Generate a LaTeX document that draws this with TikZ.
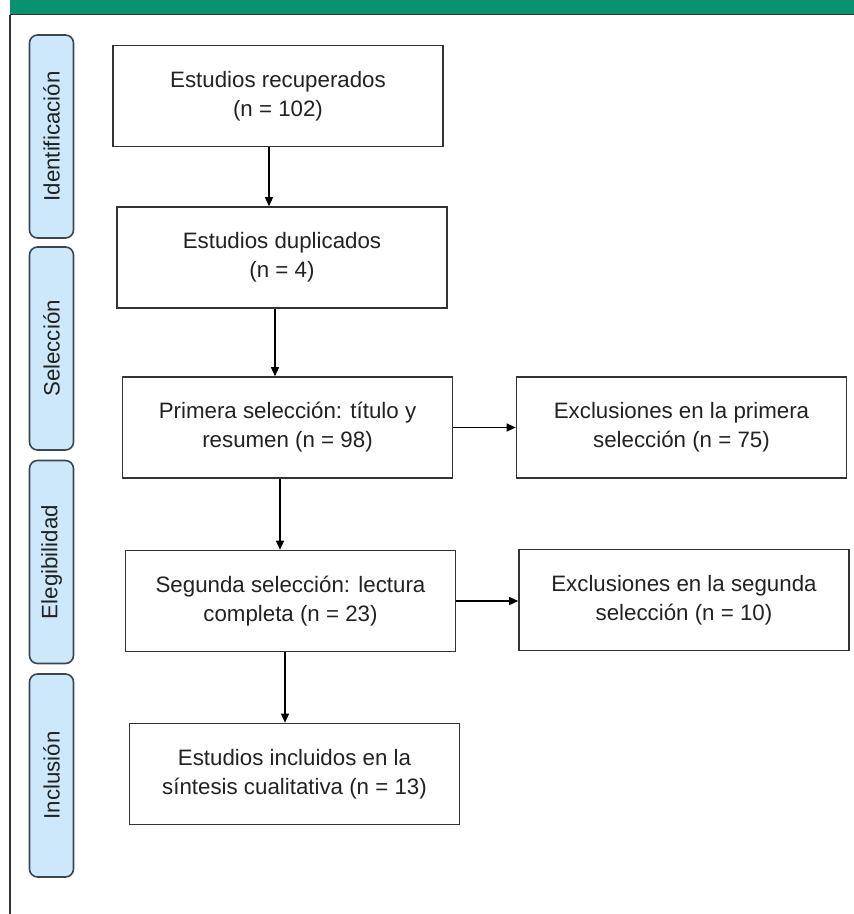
\documentclass[tikz,border=0pt]{standalone}
\usepackage{fontspec}
\setmainfont{Liberation Sans}
\usetikzlibrary{arrows.meta, positioning}
\definecolor{cgreen}{HTML}{0A9270}
\definecolor{cline}{HTML}{333333}
\definecolor{cstage}{HTML}{CDE8FA}
\definecolor{cstagedraw}{HTML}{3A4652}
\definecolor{ctext}{HTML}{222222}
\tikzset{
  every picture/.style={font=\fontsize{22.3}{29}\selectfont, line width=1.6pt},
  box/.style={draw=cline, fill=white, align=center, text=ctext, minimum width=330pt, minimum height=101pt, inner sep=0pt},
  stage/.style={draw=cstagedraw, fill=cstage, rounded corners=8pt, rotate=90, minimum width=203pt, minimum height=44pt, text=ctext, inner sep=0pt},
  arrow/.style={-{Triangle[length=9pt, width=8pt]}, draw=black, line width=1.3pt},
}

\begin{document}
\begin{tikzpicture}[x=1pt, y=-1pt]
  \useasboundingbox (0,0) rectangle (854,914);
  % header band and frame
  \fill[cgreen] (10,0) rectangle (854,14);
  \draw[cline, line width=1.4pt] (10,14.5) -- (854,14.5);
  \draw[cline, line width=1.4pt] (10,14.5) -- (10,914);
  % stages
  \node[stage] (iden) at (51.5,136.5) {Identificación};
  \node[stage] (sel) at (51.5,348.5) {Selección};
  \node[stage] (eleg) at (51.5,562) {Elegibilidad};
  \node[stage] (incl) at (51.5,775.5) {Inclusión};
  % flow boxes
  \node[box] (rec) at (278,96) {Estudios recuperados\\(n = 102)};
  \node[box] (dup) at (282,257.5) {Estudios duplicados\\(n = 4)};
  \node[box] (prim) at (287.5,427.5) {Primera selección: título y\\resumen (n = 98)};
  \node[box] (seg) at (290.5,601) {Segunda selección: lectura\\completa (n = 23)};
  \node[box] (fin) at (294.5,774) {Estudios incluidos en la\\síntesis cualitativa (n = 13)};
  \node[box] (exc1) at (681.5,427.5) {Exclusiones en la primera\\selección (n = 75)};
  \node[box] (exc2) at (684,600) {Exclusiones en la segunda\\selección (n = 10)};
  % connectors
  \draw[arrow] ([xshift=-9pt]rec.south) -- ([xshift=-9pt]rec.south |- dup.north);
  \draw[arrow] ([xshift=-7pt]dup.south) -- ([xshift=-7pt]dup.south |- prim.north);
  \draw[arrow] ([xshift=-7.5pt]prim.south) -- ([xshift=-7.5pt]prim.south |- seg.north);
  \draw[arrow] ([xshift=-5.5pt]seg.south) -- ([xshift=-5.5pt]seg.south |- fin.north);
  \draw[arrow] (prim.east) -- (prim.east -| exc1.west);
  \draw[arrow] (seg.east) -- (seg.east -| exc2.west);
\end{tikzpicture}
\end{document}
